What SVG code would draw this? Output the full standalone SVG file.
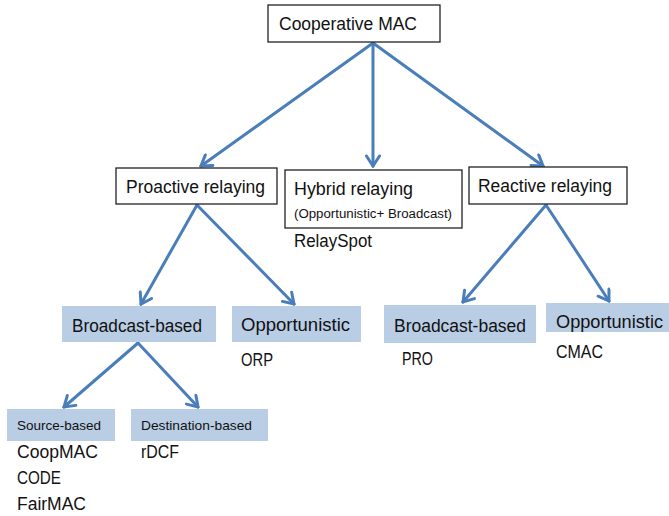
<svg xmlns="http://www.w3.org/2000/svg" width="669" height="516" viewBox="0 0 669 516">
<style>
.box{fill:#ffffff;stroke:#222222;stroke-width:1.3}
.blue{fill:#b9cde5;stroke:none}
.t{font-family:"Liberation Sans",Arial,sans-serif;font-size:17.5px;fill:#111111}
.s{font-family:"Liberation Sans",Arial,sans-serif;font-size:12px;fill:#111111}
.m{font-family:"Liberation Sans",Arial,sans-serif;font-size:13.5px;fill:#111111}
.c{fill:none;stroke:#4a7ebb;stroke-width:3;stroke-linecap:round}
</style>
<defs>
<marker id="ah" viewBox="-12 -8 14 16" markerWidth="14" markerHeight="16" refX="0" refY="0" markerUnits="userSpaceOnUse" orient="auto">
<polyline points="-10,-6.5 0,0 -10,6.5" fill="none" stroke="#4a7ebb" stroke-width="3" stroke-linecap="round" stroke-linejoin="miter"/>
</marker>
</defs>
<rect width="669" height="516" fill="#ffffff"/>
<g id="connectors">
<line class="c" x1="373" y1="43" x2="201" y2="166" marker-end="url(#ah)"/>
<line class="c" x1="373" y1="43" x2="373" y2="166" marker-end="url(#ah)"/>
<line class="c" x1="373" y1="43" x2="543" y2="166" marker-end="url(#ah)"/>
<line class="c" x1="197" y1="205" x2="141" y2="304" marker-end="url(#ah)"/>
<line class="c" x1="197" y1="205" x2="294" y2="304" marker-end="url(#ah)"/>
<line class="c" x1="546" y1="205" x2="463" y2="302" marker-end="url(#ah)"/>
<line class="c" x1="546" y1="205" x2="609" y2="301" marker-end="url(#ah)"/>
<line class="c" x1="138" y1="343" x2="64" y2="407" marker-end="url(#ah)"/>
<line class="c" x1="138" y1="343" x2="198" y2="407" marker-end="url(#ah)"/>
</g>
<g id="cooperative-mac">
<rect class="box" x="268" y="5" width="172" height="37"/>
<text class="t" x="279" y="30" textLength="138" lengthAdjust="spacingAndGlyphs">Cooperative MAC</text>
</g>
<g id="proactive">
<rect class="box" x="116" y="168" width="161" height="36"/>
<text class="t" x="126" y="193" textLength="139" lengthAdjust="spacingAndGlyphs">Proactive relaying</text>
</g>
<g id="hybrid">
<rect class="box" x="285" y="170" width="177" height="58"/>
<text class="t" x="294" y="195" textLength="119" lengthAdjust="spacingAndGlyphs">Hybrid relaying</text>
<text class="s" x="294" y="218" textLength="158" lengthAdjust="spacingAndGlyphs">(Opportunistic+ Broadcast)</text>
<text class="t" x="294" y="247" textLength="78" lengthAdjust="spacingAndGlyphs">RelaySpot</text>
</g>
<g id="reactive">
<rect class="box" x="469" y="167" width="158" height="37"/>
<text class="t" x="478" y="192" textLength="134" lengthAdjust="spacingAndGlyphs">Reactive relaying</text>
</g>
<g id="pro-broadcast">
<rect class="blue" x="62" y="306" width="154" height="36"/>
<text class="t" x="72" y="332" textLength="130" lengthAdjust="spacingAndGlyphs">Broadcast-based</text>
</g>
<g id="pro-opportunistic">
<rect class="blue" x="232" y="306" width="129" height="36"/>
<text class="t" x="241" y="331" textLength="109" lengthAdjust="spacingAndGlyphs">Opportunistic</text>
<text class="t" x="241" y="366" textLength="32" lengthAdjust="spacingAndGlyphs">ORP</text>
</g>
<g id="re-broadcast">
<rect class="blue" x="384" y="305" width="152" height="38"/>
<text class="t" x="394" y="332" textLength="132" lengthAdjust="spacingAndGlyphs">Broadcast-based</text>
<text class="t" x="402" y="365" textLength="31" lengthAdjust="spacingAndGlyphs">PRO</text>
</g>
<g id="re-opportunistic">
<rect class="blue" x="546" y="303" width="123" height="29"/>
<text class="t" x="556" y="328" textLength="107" lengthAdjust="spacingAndGlyphs">Opportunistic</text>
<text class="t" x="556" y="358" textLength="47" lengthAdjust="spacingAndGlyphs">CMAC</text>
</g>
<g id="source-based">
<rect class="blue" x="7" y="409" width="108" height="32"/>
<text class="m" x="17" y="430" textLength="84" lengthAdjust="spacingAndGlyphs">Source-based</text>
<text class="t" x="17" y="458" textLength="81" lengthAdjust="spacingAndGlyphs">CoopMAC</text>
<text class="t" x="17" y="484" textLength="44" lengthAdjust="spacingAndGlyphs">CODE</text>
<text class="t" x="17" y="510" textLength="69" lengthAdjust="spacingAndGlyphs">FairMAC</text>
</g>
<g id="destination-based">
<rect class="blue" x="131" y="409" width="137" height="32"/>
<text class="m" x="141" y="430" textLength="111" lengthAdjust="spacingAndGlyphs">Destination-based</text>
<text class="t" x="141" y="458" textLength="38" lengthAdjust="spacingAndGlyphs">rDCF</text>
</g>
</svg>
